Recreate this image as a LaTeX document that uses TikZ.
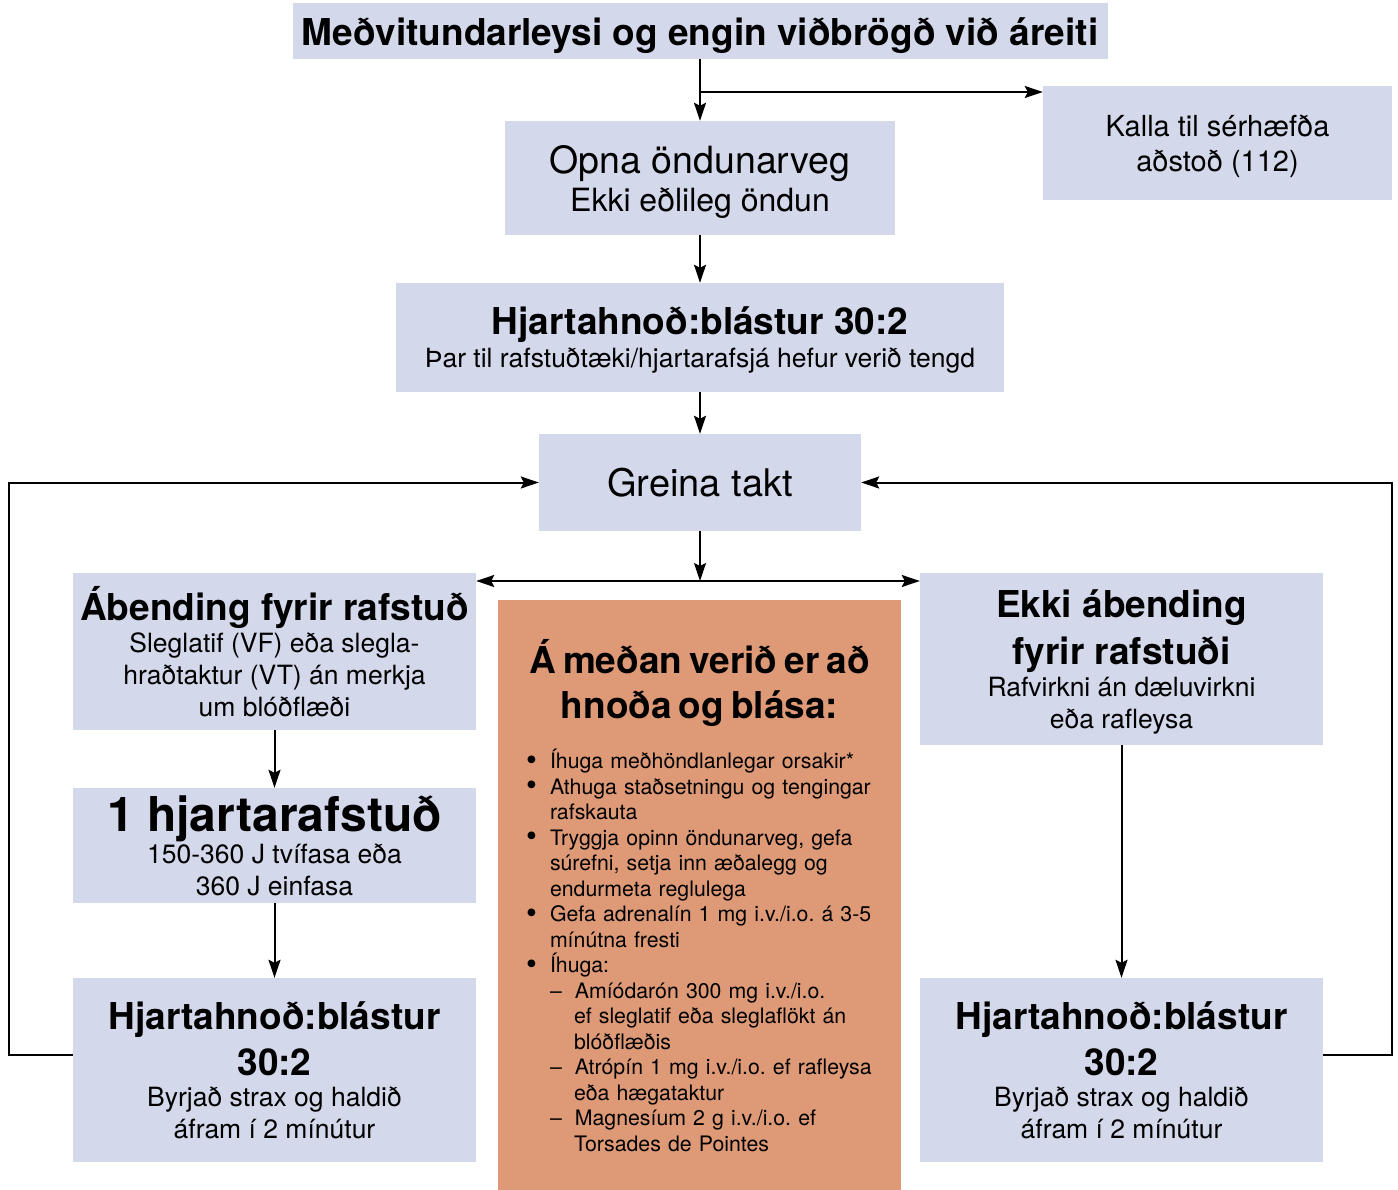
\documentclass[tikz,border=0pt]{standalone}
\usepackage{fontspec}
\setmainfont{TeX Gyre Heros}
\frenchspacing
\usetikzlibrary{arrows.meta, positioning, calc}
\definecolor{boxc}{HTML}{D3D8EA}
\definecolor{notec}{HTML}{DE9A77}

\newcommand{\headtxt}{\fontsize{37}{45}\selectfont\bfseries}
\newcommand{\subtxt}{\fontsize{26.5}{32}\selectfont}
\newcommand{\dotlabel}{\smash{\raisebox{-1.5pt}{\scalebox{1.45}{\textbullet}}}}
\newenvironment{tasklist}[2]{\begin{list}{#1}{%
    \setlength{\leftmargin}{#2}\setlength{\labelsep}{13pt}%
    \setlength{\labelwidth}{\dimexpr#2-13pt\relax}%
    \setlength{\itemsep}{0pt}\setlength{\parsep}{0pt}%
    \setlength{\topsep}{0pt}\setlength{\partopsep}{0pt}}}{\end{list}}

\begin{document}
\begin{tikzpicture}[x=1pt, y=-1pt,
    every node/.style={font=\subtxt},
    box/.style={rectangle, fill=boxc, inner sep=0pt, align=center},
    side/.style={box, minimum width=403pt},
    arr/.style={-{Stealth[length=18pt, width=12pt, inset=3pt]}, line width=2pt},
    both/.style={{Stealth[length=18pt, width=12pt, inset=3pt]}-{Stealth[length=18pt, width=12pt, inset=3pt]}, line width=2pt},
]
\useasboundingbox (0,0) rectangle (1398,1190);

% ---------------------------------------------------------------- top chain
\node[box, minimum width=815pt, minimum height=56pt, text height=30pt, text depth=0pt, font=\headtxt] (loss) at (700,31)
    {Meðvitundarleysi og engin viðbrögð við áreiti};
\node[box, minimum width=390pt, minimum height=114pt, text depth=0pt, font=\fontsize{37.5}{38}\selectfont] (airway) at (700,178)
    {Opna öndunarveg\\{\fontsize{32}{38}\selectfont Ekki eðlileg öndun}};
\node[box, minimum width=349pt, minimum height=114pt, text depth=0pt, font=\fontsize{29}{35}\selectfont] (help) at (1217.5,143)
    {Kalla til sérhæfða\\aðstoð (112)};
\node[box, minimum width=608pt, minimum height=109pt, text depth=0pt] (cpr) at (700,337.5)
    {{\headtxt Hjartahnoð:blástur 30:2}\\[1pt]Þar til rafstuðtæki/hjartarafsjá hefur verið tengd};
\node[box, minimum width=322pt, minimum height=97pt, font=\fontsize{38}{40}\selectfont] (rhythm) at (700,482.5)
    {Greina takt};

\coordinate (split) at (700,92);
\coordinate (fork) at (700,581);

% ---------------------------------------------------------------- left
\node[side, minimum height=157pt] (shock) at (274.5,651.5)
    {{\headtxt Ábending fyrir rafstuð}\\Sleglatif (VF) eða slegla-\\hraðtaktur (VT) án merkja\\um blóðflæði};
\node[side, minimum height=115pt] (jolt) at (274.5,845.5)
    {{\fontsize{48}{50}\selectfont\bfseries 1 hjartarafstuð}\\150-360 J tvífasa eða\\360 J einfasa};
\node[side, minimum height=184pt] (cprL) at (274.5,1070)
    {{\headtxt Hjartahnoð:blástur}\\[10pt]{\headtxt 30:2}\\[-1pt]Byrjað strax og haldið\\áfram í 2 mínútur};

% ---------------------------------------------------------------- right
\node[side, minimum height=172pt, text depth=0pt] (noshock) at (1121.5,659)
    {{\headtxt Ekki ábending}\\[10pt]{\headtxt fyrir rafstuði}\\Rafvirkni án dæluvirkni\\eða rafleysa};
\node[side, minimum height=184pt] (cprR) at (1121.5,1070)
    {{\headtxt Hjartahnoð:blástur}\\[10pt]{\headtxt 30:2}\\[-1pt]Byrjað strax og haldið\\áfram í 2 mínútur};

% ---------------------------------------------------------------- middle
\node[rectangle, fill=notec, inner sep=0pt, text width=403pt, minimum height=590pt, anchor=north,
      align=left, font=\fontsize{21.3}{25.5}\selectfont] (during) at (699.5,600)
    {{\centering\headtxt Á meðan verið er að\\hnoða og blása:\par}\vspace{22pt}%
     \begin{tasklist}{\dotlabel}{52pt}
     \item Íhuga meðhöndlanlegar orsakir*
     \item Athuga staðsetningu og tengingar\\rafskauta
     \item Tryggja opinn öndunarveg, gefa\\súrefni, setja inn æðalegg og\\endurmeta reglulega
     \item Gefa adrenalín 1 mg i.v./i.o. á 3-5\\mínútna fresti
     \item Íhuga:
       \begin{tasklist}{\textendash}{24pt}
       \item Amíódarón 300 mg i.v./i.o.\\ef sleglatif eða sleglaflökt án\\blóðflæðis
       \item Atrópín 1 mg i.v./i.o. ef rafleysa\\eða hægataktur
       \item Magnesíum 2 g i.v./i.o. ef\\Torsades de Pointes
       \end{tasklist}
     \end{tasklist}};

% ---------------------------------------------------------------- connectors
\draw[arr] (loss) -- (airway);
\draw[arr] (split) -- (split -| help.west);
\draw[arr] (airway) -- (cpr);
\draw[arr] (cpr) -- (rhythm);
\draw[arr] (rhythm) -- (fork);
\draw[both] (fork -| shock.east) -- (fork -| noshock.west);
\draw[arr] (shock) -- (jolt);
\draw[arr] (jolt) -- (cprL);
\draw[arr] (noshock) -- (cprR);
\draw[arr] ([yshift=15pt]cprL.west) -- ++(-64,0) |- (rhythm.west);
\draw[arr] ([yshift=15pt]cprR.east) -- ++(69,0) |- (rhythm.east);

\end{tikzpicture}
\end{document}
